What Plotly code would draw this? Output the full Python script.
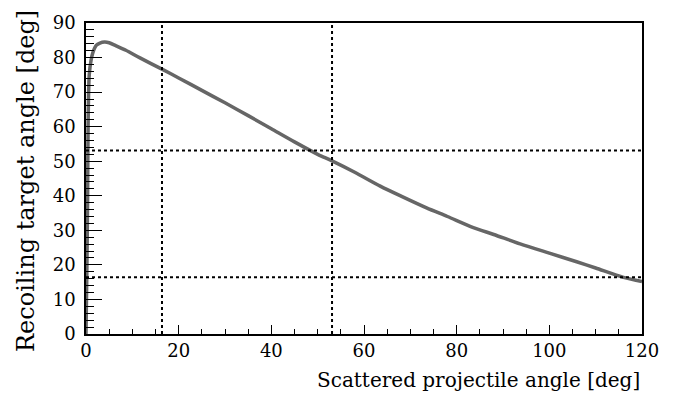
import plotly.graph_objects as go

# Curve
scattered_deg = [0, 0.2, 0.35, 0.45, 0.7, 1.1, 1.5, 2.2, 3.0, 4.0, 5.0, 6.5, 8.6, 11.65, 16.6, 20, 25, 30, 35,
                 40, 45, 50, 53.1, 58, 63.5, 68, 73.5, 78, 83.6, 88, 93.7, 100, 105.9, 110, 116, 120]
recoil_deg = [0, 20, 40, 60, 75.0, 79.3, 81.5, 83.5, 84.2, 84.5, 84.3, 83.4, 82.1, 79.9, 76.5, 74.1, 70.5, 66.9, 63.2,
              59.4, 55.6, 52.0, 50.1, 46.8, 42.8, 39.9, 36.5, 34.0, 30.8, 28.8, 26.1, 23.4, 20.9, 19.1, 16.4, 15.2]

# Reference lines
vline_x = [16.4, 53.1]
hline_y = [16.4, 53.1]

x_ticks = [0, 20, 40, 60, 80, 100, 120]
y_ticks = [0, 10, 20, 30, 40, 50, 60, 70, 80, 90]

FONT = "DejaVu Serif"

fig = go.Figure()
fig.add_trace(go.Scatter(x=scattered_deg, y=recoil_deg, mode="lines",
                         line=dict(color="#666666", width=3.5, shape="spline", smoothing=0.8),
                         showlegend=False, hoverinfo="skip"))

for xv in vline_x:
    fig.add_shape(type="line", xref="x", yref="y", x0=xv, x1=xv, y0=0, y1=90,
                  line=dict(color="black", width=2, dash="3px,3px"))
for yv in hline_y:
    fig.add_shape(type="line", xref="x", yref="y", x0=0, x1=120, y0=yv, y1=yv,
                  line=dict(color="black", width=2, dash="3px,3px"))

fig.add_annotation(text="Scattered projectile angle [deg]", xref="paper", yref="paper",
                   x=1, y=0, xanchor="right", yanchor="top", yshift=-32, showarrow=False,
                   font=dict(family=FONT, size=20, color="black"))
fig.add_annotation(text="Recoiling target angle [deg]", xref="paper", yref="paper",
                   x=0, y=1, xanchor="right", yanchor="top", xshift=-44, yshift=15, showarrow=False,
                   textangle=-90, font=dict(family=FONT, size=24, color="black"))

fig.update_layout(
    width=682, height=394,
    margin=dict(l=86, r=40, t=16, b=60),
    plot_bgcolor="white", paper_bgcolor="white",
    font=dict(family=FONT, size=18, color="black"),
    xaxis=dict(range=[0, 120], tickvals=x_ticks, ticks="inside", ticklen=9, tickwidth=1.2,
               tickcolor="black", showline=True, linecolor="black", linewidth=1.5, mirror=True,
               showgrid=False, zeroline=False, tickfont=dict(family=FONT, size=18),
               minor=dict(dtick=5, ticks="inside", ticklen=5, tickwidth=1.2, tickcolor="black", showgrid=False)),
    yaxis=dict(range=[0, 90], tickvals=y_ticks, ticks="inside", ticklen=16, tickwidth=1.2,
               tickcolor="black", showline=True, linecolor="black", linewidth=1.5, mirror=True,
               showgrid=False, zeroline=False, tickfont=dict(family=FONT, size=18),
               ticklabeloverflow="allow", ticklabelstandoff=5,
               minor=dict(dtick=2, ticks="inside", ticklen=8, tickwidth=1.2, tickcolor="black", showgrid=False)),
)

fig.write_html("out.html", config={"displayModeBar": False},
               post_script="document.body.style.margin='0px';")
